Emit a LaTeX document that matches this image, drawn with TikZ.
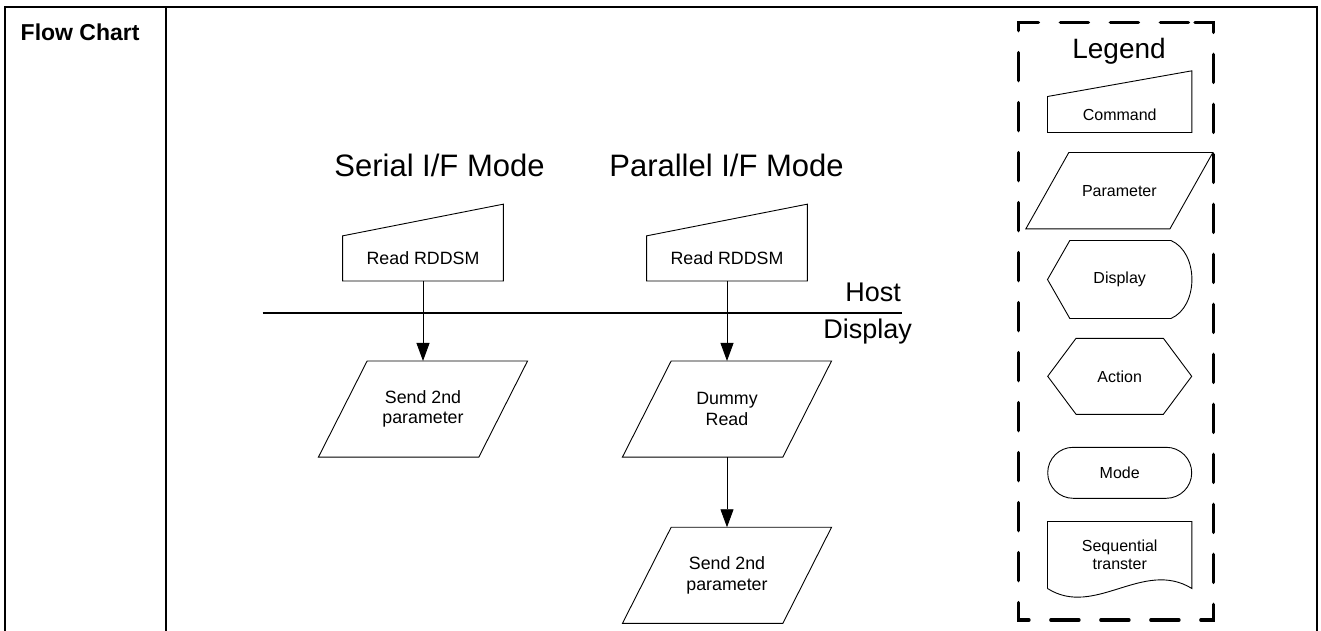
\documentclass[tikz,border=0pt]{standalone}
\usepackage{fontspec}
\setmainfont{Liberation Sans}
\usetikzlibrary{positioning,arrows.meta,shapes.symbols,shapes.misc}

\begin{document}
\begin{tikzpicture}[x=1pt, y=-1pt,
    frame/.style={line width=2pt},
    thinline/.style={line width=0.9pt},
    flowtxt/.style={font=\fontsize{17.8}{20.5}\selectfont, align=center, inner sep=0pt},
    legtxt/.style={font=\fontsize{16}{18.3}\selectfont, align=center, inner sep=0pt},
    cmdbox/.style={flowtxt, minimum width=160.3pt, minimum height=44.7pt},
    parbox/.style={flowtxt, minimum width=208.7pt, minimum height=95.7pt},
    title/.style={font=\fontsize{31}{36}\selectfont, anchor=base, inner sep=0pt},
    side/.style={font=\fontsize{27}{32}\selectfont, anchor=base east, inner sep=0pt},
    arr/.style={thinline, -{Triangle[length=18pt, width=13pt]}}
  ]
  \useasboundingbox (0,0) rectangle (1321,631);

  % frame
  \draw[frame] (5,640) -- (5,7) -- (1316.5,7) -- (1316.5,640);
  \draw[frame] (166,7) -- (166,640);
  \node[font=\bfseries\fontsize{23}{27}\selectfont, anchor=base west, inner sep=0pt] (fc) at (20.5,40.7) {Flow Chart};

  % modes
  \node[title] (serT) at (439.5,176) {Serial I/F Mode};
  \node[title] (parT) at (726.5,176) {Parallel I/F Mode};

  \node[cmdbox] (serCmd) at (423,258.4) {Read RDDSM};
  \node[cmdbox] (parCmd) at (727,258.4) {Read RDDSM};
  \foreach \n in {serCmd,parCmd}
    \draw[thinline] (\n.north west) -- (\n.south west) -- (\n.south east) -- ([yshift=31.7pt]\n.north east) -- cycle;

  % host / display
  \coordinate (hostL) at (262.7,313);
  \coordinate (hostR) at (901.7,313);
  \draw[line width=1.3pt] (hostL) -- (hostR);
  \node[side] (host) at (901,301.7) {Host};
  \node[side] (disp) at (912,338) {Display};

  \node[parbox] (serPar) at (423,409) {Send 2nd\\parameter};
  \node[parbox] (parDum) at (727,409) {Dummy\\Read};
  \node[parbox] (parPar) at (727,575.3) {Send 2nd\\parameter};
  \foreach \n in {serPar,parDum,parPar}
    \draw[thinline] ([xshift=48.7pt]\n.north west) -- (\n.north east) -- ([xshift=-48.7pt]\n.south east) -- (\n.south west) -- cycle;

  \draw[arr] (serCmd.south) -- (serPar.north);
  \draw[arr] (parCmd.south) -- (parDum.north);
  \draw[arr] (parDum.south) -- (parPar.north);

  % legend
  \draw[line width=3.5pt, line cap=round, dash pattern=on 28pt off 22pt]
    (1195,22.7) -- (1213.3,22.7) -- (1213.3,620) -- (1018.3,620) -- (1018.3,22.7) -- cycle;
  \node[font=\fontsize{28}{32}\selectfont, anchor=base, inner sep=0pt] (legT) at (1119,58.3) {Legend};

  \node[legtxt, minimum width=144pt, minimum height=35.6pt] (legCmd) at (1119.7,114.5) {Command};
  \draw[thinline] (legCmd.north west) -- (legCmd.south west) -- (legCmd.south east) -- ([yshift=25.7pt]legCmd.north east) -- cycle;

  \node[legtxt, minimum width=186.7pt, minimum height=76pt] (legPar) at (1119.35,190.7) {Parameter};
  \draw[thinline] ([xshift=43pt]legPar.north west) -- (legPar.north east) -- ([xshift=-43pt]legPar.south east) -- (legPar.south west) -- cycle;

  \node[legtxt, minimum width=144pt, minimum height=77.6pt] (legDisp) at (1119.7,279.5) {Display};
  \draw[thinline] (legDisp.west) -- ([xshift=22.3pt]legDisp.north west) -- ([xshift=-21pt]legDisp.north east)
    .. controls ([xshift=7pt,yshift=-12pt]legDisp.north east) and ([xshift=7pt,yshift=12pt]legDisp.south east) ..
    ([xshift=-21pt]legDisp.south east) -- ([xshift=22.3pt]legDisp.south west) -- cycle;

  \node[legtxt, draw, thinline, signal, signal to=east and west, signal pointer angle=106.6,
    minimum width=144pt, minimum height=76pt] (legAct) at (1119.7,376.3) {Action};

  \node[legtxt, draw, thinline, rounded rectangle, minimum width=144pt, minimum height=51pt] (legMode) at (1119.7,472.8) {Mode};

  \node[legtxt, minimum width=144pt, minimum height=66.6pt] (legSeq) at (1119.7,555) {Sequential\\transter};
  \draw[thinline] (legSeq.south west) -- (legSeq.north west) -- (legSeq.north east) -- (legSeq.south east)
    .. controls ([xshift=-48.7pt,yshift=30pt]legSeq.south east) and ([xshift=47.3pt,yshift=-30pt]legSeq.south west) ..
    (legSeq.south west);
\end{tikzpicture}
\end{document}
